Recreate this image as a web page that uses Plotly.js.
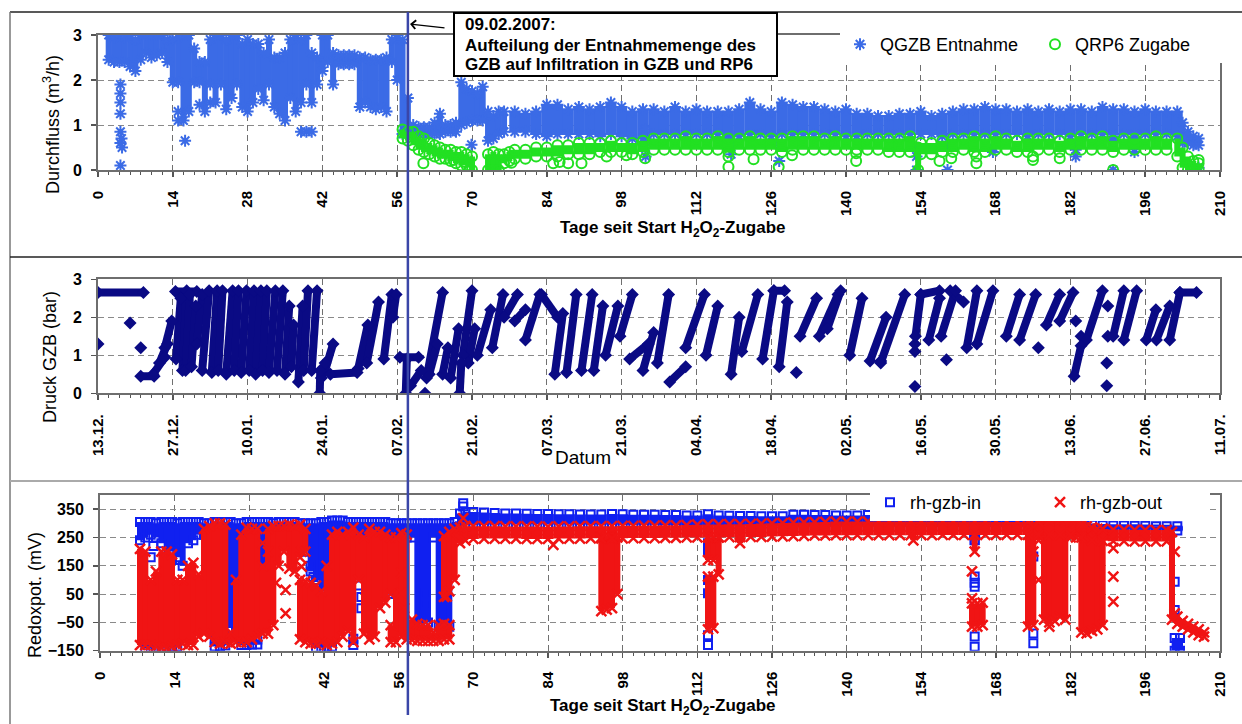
<!DOCTYPE html>
<html><head><meta charset="utf-8">
<script src="https://cdn.plot.ly/plotly-3.0.1.min.js"></script>
<style>html,body{margin:0;padding:0;background:#fff}#chart{width:1242px;height:724px}</style>
</head><body><div id="chart"></div>
<script>
// ---------- shared ----------
const dayTicks = [0,14,28,42,56,70,84,98,112,126,140,154,168,182,196,210];
const dateTickText = ["13.12.","27.12.","10.01.","24.01.","07.02.","21.02.","07.03.","21.03.","04.04.","18.04.","02.05.","16.05.","30.05.","13.06.","27.06.","11.07."];
const splitDay = 58; // 09.02.2007
const redoxTicks = [-150,-50,50,150,250,350];
const noteLines = ["09.02.2007:","Aufteilung der Entnahmemenge des","GZB auf Infiltration in GZB und RP6"];

// ---------- panel 1: Durchfluss ----------
const qgzbDayA = [2,3,4,5,6,7,8,9,10,11,12,13, 14,15,16,17,18,19,20,21,22,23, 24,25,26,27,28,29,30,31,32,33, 34,35,36,37,38,39,40,41,42,43, 44,45,46,47,48,49,50,51,52,53, 54,55,56,57,58,59,60,61,62,63, 64,65,66,67,68,69,70,71,72,73, 74,75,76, 203,204,205,206];
const qgzbLoA = [2.45,2.4,2.4,2.4,2.3,2.2,2.45,2.6,2.5,2.55,2.6,2.4, 1.95,1.95,1.1,1.3,1.95,1.95,1.3,1.9,1.5,1.9, 1.35,1.6,1.9,1.4,1.3,1.5,1.8,1.55,1.9,1.4, 1.25,1.1,1.6,1.3,1.5,1.9,1.5,1.9,2.2,2.4, 1.9,2.35,2.35,2.35,2.35,1.4,1.5,1.4,1.35,1.4, 1.3,2.4,2.0,0.8,0.8,0.8,0.8,0.8,0.8,0.8, 0.8,0.85,0.85,0.85,1.0,1.05,1.1,1.1,1.1,0.65, 0.7,0.8,0.85, 0.6,0.6,0.55,0.55];
const qgzbHiA = [3.0,2.95,3.0,2.95,3.0,2.9,3.0,3.0,3.0,3.0,3.0,2.9, 2.9,2.95,3.0,3.0,2.7,2.4,2.4,2.9,3.0,3.0, 2.9,3.0,3.0,2.8,2.9,2.8,2.8,2.6,2.9,2.5, 2.5,2.6,2.9,3.0,2.9,3.0,2.6,2.5,3.0,3.0, 2.6,2.55,2.55,2.55,2.55,2.5,2.5,2.45,2.45,2.45, 2.5,2.9,3.0,2.9,1.6,1.0,0.95,0.95,0.95,1.05, 1.25,1.0,1.0,1.05,1.95,1.8,1.75,1.7,1.85,1.3, 1.2,1.3,1.3, 1.05,0.85,0.75,0.7];
const qgzbDayB = [78,80,82,84,86,88,90,92,94,96, 98,100,102,104,106,108,110,112,114,116, 118,120,122,124,126,128,130,132,134,136, 138,140,142,144,146,148,150,152,154,156, 158,160,162,164,166,168,170,172,174,176, 178,180,182,184,186,188,190,192,194,196, 198,200,202];
const qgzbLoB = [0.85,0.85,0.8,0.75,0.8,0.8,0.8,0.8,0.75,0.8, 0.75,0.7,0.7,0.8,0.8,0.8,0.8,0.8,0.8,0.8, 0.7,0.75,0.8,0.8,0.75,0.8,0.8,0.8,0.8,0.8, 0.8,0.75,0.75,0.8,0.8,0.8,0.8,0.8,0.8,0.8, 0.75,0.8,0.8,0.8,0.8,0.8,0.8,0.8,0.75,0.8, 0.8,0.8,0.75,0.8,0.8,0.8,0.8,0.8,0.8,0.8, 0.8,0.8,0.75];
const qgzbHiB = [1.3,1.25,1.3,1.45,1.45,1.35,1.4,1.35,1.4,1.5, 1.4,1.3,1.35,1.35,1.3,1.4,1.3,1.35,1.3,1.3, 1.3,1.35,1.5,1.35,1.3,1.5,1.45,1.4,1.4,1.35, 1.3,1.35,1.25,1.25,1.2,1.2,1.25,1.25,1.3,1.2, 1.25,1.3,1.35,1.35,1.4,1.35,1.35,1.3,1.35,1.3, 1.35,1.3,1.35,1.35,1.3,1.4,1.35,1.35,1.3,1.35, 1.3,1.3,1.3];
const qgzbOutX = [4.2,4.2,4.2,4.2,4.2,4.4,4.2,4.5,4.2,15,15,16.3,19,21,38,39,40,69.9,102.5,102.5,102.5,102.5,118.5,118.5,127.5,127.5,153.2,153.2,153.2,159,159,167.5,167.5,183,183,183,190,190,190,194,194,194,205.5,206];
const qgzbOutY = [1.9,1.7,1.5,1.25,0.85,0.7,0.6,0.5,0.1,1.3,1.1,0.65,1.45,1.5,0.85,0.85,0.85,0.56,0.3,0.5,0.7,0.9,0.35,0.55,0.2,0.55,0.0,0.3,0.5,0.0,0.55,0.4,0.5,0.3,0.45,0.6,0.0,0.65,0.75,0.4,0.55,0.7,0.0,0.05];

const qrp6DayA = [57,58,59,60,61,62,63,64,65,66,67,68,69,70,73,74,75,76,77,153.5,202,203,204,205,206];
const qrp6LoA = [0.7,0.65,0.55,0.45,0.4,0.35,0.3,0.25,0.25,0.2,0.15,0.1,0.1,0.0,0.0,0.0,0.0,0.15,0.2,0.0,0.3,0.05,0.0,0.0,0.0];
const qrp6HiA = [0.9,0.85,0.85,0.75,0.7,0.6,0.55,0.5,0.45,0.45,0.4,0.4,0.35,0.3,0.35,0.4,0.35,0.35,0.4,0.5,0.7,0.5,0.3,0.2,0.15];
const qrp6DayB = [78,80,82,84,86,88,90,92,94,96, 98,100,102,104,106,108,110,112,114,116, 118,120,122,124,126,128,130,132,134,136, 138,140,142,144,146,148,150,152,154,156, 158,160,162,164,166,168,170,172,174,176, 178,180,182,184,186,188,190,192,194,196, 198,200];
const qrp6LoB = [0.25,0.25,0.3,0.3,0.3,0.35,0.35,0.35,0.4,0.4, 0.4,0.35,0.4,0.45,0.45,0.45,0.45,0.45,0.45,0.45, 0.4,0.45,0.45,0.45,0.45,0.4,0.45,0.45,0.45,0.45, 0.45,0.45,0.45,0.45,0.45,0.4,0.4,0.4,0.35,0.35, 0.4,0.4,0.45,0.4,0.4,0.45,0.45,0.4,0.4,0.45, 0.45,0.4,0.45,0.45,0.45,0.45,0.4,0.45,0.45,0.45, 0.45,0.45];
const qrp6HiB = [0.45,0.45,0.5,0.5,0.55,0.55,0.6,0.6,0.6,0.65, 0.6,0.6,0.65,0.7,0.7,0.7,0.75,0.7,0.7,0.75, 0.7,0.7,0.75,0.7,0.7,0.7,0.75,0.75,0.75,0.7, 0.75,0.7,0.7,0.7,0.7,0.7,0.7,0.75,0.6,0.6, 0.65,0.7,0.7,0.75,0.7,0.75,0.7,0.65,0.7,0.7, 0.7,0.65,0.7,0.75,0.7,0.75,0.65,0.7,0.7,0.7, 0.75,0.7];
const qrp6OutX = [60.9,66.5,68.6,69.5,77.4,85.2,86.4,88,90.5,95.2,98.9,102.4,118,118,122.7,127.4,129.9,141.9,141.9,157.5,159.7,164.4,164.4,175,175,180,190,206];
const qrp6OutY = [0.15,0.22,0.18,0.0,0.16,0.15,0.18,0.15,0.15,0.3,0.33,0.26,0.3,0.07,0.24,0.07,0.33,0.37,0.2,0.2,0.26,0.3,0.15,0.3,0.22,0.26,0.0,0.22];

// ---------- panel 2: Druck GZB (strokes: start day/value -> end day/value) ----------
const druckX0 = [0,8,10.3,11.5,12.5,14.5,14.6,15.8,16.4,17.5, 18.5,19.5,21.3,22.5,24,25.5,26.8,28.3,29.5,30.8, 32,33.5,35,36.2,37.5,38.5,40,41.5,41.8,42.5, 43.5,48.7,50.3,53.5,55.2,56.5,57.6,58.5,61.5,62, 64.5,66,67.7,68.3,69.3,71,73.8,76,78,80, 83,85.5,87.7,90.5,92.8,95,97.7,99.5,102,104.7, 107,110,113.8,118.5,120.5,124.4,126.5,127.5,131.4,135, 136.5,140.7,144.5,146.5,153,154,155.5,157.8,159.5,162.6, 164.5,170,172.5,177.5,180,182.7,185,190,192,196.2, 198.1,200.6,202.5];
const druckY0 = [2.65,0.45,0.5,0.8,1.2,2.68,0.9,0.6,0.6,0.7, 1.3,0.6,0.55,0.6,0.5,0.6,0.55,0.6,0.5,0.6, 0.55,0.6,0.5,0.7,0.3,0.6,0.6,0.0,0.4,0.6, 0.5,0.65,0.8,0.9,2.0,0.95,0.0,0.2,0.4,0.5, 0.5,0.4,0.0,1.0,0.8,1.0,1.2,2.0,1.9,1.4, 2.6,0.5,0.55,0.6,0.6,1.0,1.5,0.9,0.6,0.8, 0.3,1.2,1.0,0.5,1.1,0.9,2.7,0.7,1.5,1.5, 1.7,1.0,0.85,0.8,1.5,2.6,1.4,1.5,2.7,1.2, 1.3,1.5,1.4,1.8,1.9,0.45,1.4,1.5,1.4,1.4, 1.4,1.4,2.65];
const druckX1 = [8.5,10.5,12.5,13,13.8,18.5,15.5,16.6,17.2,18.3, 19.5,20.8,22.3,23.3,25.2,26.3,27.8,29.2,30.5,31.6, 33.2,34.6,35.8,36.6,38.3,39.3,41,41.6,42.5,44, 48.5,50.5,52.5,55,55.8,60,57.8,60.5,64.5,63.5, 65.5,67.5,68,70,70.5,73.5,75.8,78.5,80,82.7, 86,87,89.5,92.5,94.5,97.3,100,103,104,106.8, 110,113.5,116,120,123.5,126.5,128.5,129,134.5,138.5, 139,143,147.5,151,154,157.5,157.5,160.5,162,164.5, 167.5,172.5,175.5,180,182.5,184,188,192,194.4,198, 200.6,202.5,205.6];
const druckY1 = [2.65,0.45,0.95,1.3,1.9,2.68,2.5,2.7,2.6,2.3, 2.6,2.7,2.7,2.7,2.7,2.7,2.7,2.7,2.7,2.7, 2.7,2.7,2.3,1.8,2.3,2.7,2.7,0.6,0.8,1.3, 0.55,1.8,2.4,2.6,2.6,0.95,0.9,0.6,2.65,1.3, 1.2,1.7,0.8,2.7,1.7,2.2,2.6,2.6,2.2,2.6, 2.0,2.1,2.6,2.6,2.3,2.3,2.6,1.3,1.6,2.6, 0.7,2.6,2.3,2.0,2.6,2.7,2.7,2.4,2.5,2.6, 2.7,2.5,2.0,2.6,2.6,2.7,2.5,2.7,2.4,2.7, 2.7,2.6,2.6,2.6,2.65,1.25,2.7,2.7,2.7,2.2, 2.3,2.65,2.65];
const druckPtX = [0,6,8,61.2,130.7,146.5,152.9,152.9,152.9,158.8,176,183,184,188.8,188.8,189,189];
const druckPtY = [1.3,1.85,1.2,0.0,0.55,0.85,0.18,1.1,1.3,0.88,1.2,1.9,1.5,0.2,0.8,1.5,2.3];

// ---------- panel 3: Redoxpotential ----------
const rhInDayA = [7.5,8.5,9.5,10.5,11.5,12.5,13.5,14.5,15.5,16.5, 17.5,18.5,19.5,20.5,21.5,22.5,23.5,24.5,25.5,26.5, 27.5,28.5,29.5,30.5,31.5,32.5,33.5,34.5,35.5,36.5, 37.5,38.5,39.5,40.5,41.5,42.5,43.5,44.5,45.5,46.5, 47.5,48.5,49.5,50.5,51.5,52.5,53.5,54.5,55.5,56.5, 57.5,58.5,59.5,60.5,61.5,62.5,63.5,64.5,65.5,66.5, 67.5,68.5,201.5,202.5, 8.5,9.5,10.5,11.5,12.5,13.5,14.5,21.5,22.5,23.5, 26.5,27.5,28.5,29.5,40.5,41.5,42.5,43.5,47.5];
const rhInLoA = [240,250,260,250,230,160,200,180,150,230, 240,260,260,270,270,270,250,-70,-60,250, 260,240,200,150,180,260,270,270,270,260, 240,200,130,100,60,-80,200,230,250,250, 200,150,250,250,250,150,80,50,60,240, 250,250,-55,-55,-50,250,-65,-65,-65,280, 290,295,-150,-150, -142,-142,-140,-140,-138,-138,-135,-135,-135,-132, -130,-130,-128,-128,-140,-140,-138,-136,-130];
const rhInHiA = [305,305,305,300,305,305,305,300,305,305, 305,305,300,300,305,305,305,305,300,300, 305,305,305,305,305,300,305,305,305,305, 300,300,300,300,305,305,310,310,310,305, 305,305,305,305,305,305,305,300,300,300, 300,300,300,300,300,300,300,300,300,305, 335,340,-105,-105, -118,-118,-116,-116,-115,-115,-112,-112,-112,-110, -110,-110,-110,-110,-118,-118,-116,-115,-108];
const rhInDayB = [70,72,74,76,78,80,82,84,86,88, 90,92,94,96,98,100,102,104,106,108, 110,112,114,116,118,120,122,124,126,128, 130,132,134,136,138,140,142,144,146,148, 150,152,154,156,158,160,162,164,166,168, 170,172,174,176,178,180,182,184,186,188, 190,192,194,196,198,200,202];
const rhInLoB = [295,296,296,297,297,297,297,296,296,296, 296,296,296,295,295,295,295,295,294,294, 294,293,290,292,292,292,292,292,292,291, 291,291,290,290,290,290,290,290,290,290, 289,289,288,288,288,288,287,240,287,287, 287,287,300,290,290,289,289,288,282,280, 279,279,279,278,278,277,275];
const rhInHiB = [340,338,336,335,335,334,333,333,332,332, 331,331,331,333,332,330,330,330,329,329, 328,328,332,328,327,326,326,325,325,325, 330,330,329,329,328,328,328,329,328,328, 328,327,327,326,327,327,326,325,326,325, 324,324,340,335,322,321,321,318,295,293, 292,292,291,291,290,290,290];
const rhInOutX = [9.5,10,12,13,14.5,15,16,22,30.5,31, 39,39.5,40,40.5,41,41.5,42,44,48.5,49, 49,53,54.5,55,55.5,56,60,60,61,61, 68.1,68.1,95,95,114,114,114,114,114,114, 164,164,164,164,164,164,175,175,175,201.5,201.5];
const rhInOutY = [180,220,120,60,200,170,30,230,200,120, 200,150,110,60,20,-10,230,180,80,40, 0,150,60,100,200,250,112,76,53,12, 371,359,106,53,230,200,100,53,-95,-130, 241,112,90,76,-100,-136,183,-89,-124,94,-6];

const rhOutDayA = [7.5,8.5,9.5,10.5,11.5,12.5,13.5,14.5,15.5,16.5, 17.5,18.5,19.5,20.5,21.5,22.5,23.5,24.5,25.5,26.5, 27.5,28.5,29.5,30.5,31.5,32.5,33.5,34.5,35.5,36.5, 37.5,37.5,38.5,38.5,39.5,40.5,41.5,42.5,43.5,44.5, 45.5,46.5,47.5,48.5,49.5,50.5,51.5,52.5,53.5,54.5, 54.5,55.5,56.5,57.5,58.5,59.5,60.5,61.5,62.5,63.5, 64.5,64.5,65.5,65.5,66.5,67.5,68.5,94,95,96, 97,114,114,115,115,116,120,152.5,164,163.5, 164.5,165.5,174,175,176,177,178,179,180,181, 182,183,184,185,186,187,188,201,202,203, 204,205,206,207];
const rhOutLoA = [-130,-130,-130,-135,-140,-140,-135,-130,-125,-130, -130,-100,-90,-100,-120,-125,-120,-125,-120,-120, -120,-110,-100,-90,-90,-60,150,200,140,130, -110,180,-120,200,-125,-125,-120,-130,-125,-120, -100,-80,-120,100,-90,-110,-100,0,20,-120, 50,-120,-100,-110,-112,-115,-115,-115,-115,-115, -110,40,-110,60,100,230,240,-10,-5,0, 50,170,-75,170,-70,120,230,240,200,-65, -65,-60,-65,-60,240,-40,-50,-45,-30,-40, 250,250,-85,-89,-80,-75,-60,-40,-55,-65, -75,-85,-95,-100];
const rhOutHiA = [210,200,100,130,200,200,190,100,100,150, 160,120,280,290,300,300,295,-85,100,260, 285,280,280,150,280,290,290,290,295,290, 100,295,95,280,90,80,60,150,260,270, 260,270,285,260,250,280,270,270,260,-60, 250,250,265,260,-40,-55,-60,-60,-85,-60, -55,255,-60,270,280,285,290,250,250,250, 250,250,112,250,112,250,260,280,260,17, 17,20,290,290,300,312,312,312,312,305, 305,300,290,289,285,280,280,270,-30,-45, -55,-65,-75,-85];
const rhOutDayB = [70,72,74,76,78,80,82,84,86,88, 90,92,94,96,98,100,102,104,106,108, 110,112,114,116,118,120,122,124,126,128, 130,132,134,136,138,140,142,144,146,148, 150,152,154,156,158,160,162,164,166,168, 170,172,174,176,178,180,182,184,186,188, 190,192,194,196,198,200];
const rhOutLoB = [245,246,246,246,246,245,245,245,246,246, 246,247,247,247,247,248,248,248,249,249, 250,250,250,250,251,251,252,252,253,254, 255,256,257,257,258,258,258,258,258,258, 258,258,258,258,259,259,259,259,259,259, 259,259,259,259,259,259,258,250,240,238, 237,237,236,236,236,236];
const rhOutHiB = [290,290,290,289,289,289,289,288,289,289, 290,290,290,290,291,291,292,292,293,293, 294,295,296,296,297,297,298,299,300,301, 302,303,304,305,306,306,306,306,306,306, 306,306,306,306,306,306,306,306,306,305, 305,305,305,305,308,310,312,300,285,280, 278,278,277,277,276,276];
const rhOutOutX = [34.8,34.8,37.8,37.8,33,56.5,56.5,57,65,68.1,85,163.5,163.5,175,176,178,190,190,190,201.5,201.5,30.5,31.5];
const rhOutOutY = [65,-18,200,147,90,124,53,0,41,318,224,130,35,200,100,-65,212,112,23,200,-18,230,200];

// ---------- colours ----------
const cQGZB = '#3b6be6', cQRP6 = '#22e022', cDruck = '#0a0a84', cIn = '#1020f0', cOut = '#f01414';

// ---------- builders ----------
function bandXY(xs, lo, hi){ const x=[],y=[]; for(let i=0;i<xs.length;i++){x.push(xs[i],xs[i],null);y.push(lo[i],hi[i],null);} return {x,y}; }
function strokeXY(x0,y0,x1,y1){ const x=[],y=[]; for(let i=0;i<x0.length;i++){x.push(x0[i],x1[i],null);y.push(y0[i],y1[i],null);} return {x,y}; }
function lineTrace(xy,color,width,xa,ya){ return {type:'scatter',mode:'lines',x:xy.x,y:xy.y,xaxis:xa,yaxis:ya,line:{color:color,width:width},hoverinfo:'skip',showlegend:false}; }
function markTrace(x,y,marker,xa,ya,name,legend){ const t={type:'scatter',mode:'markers',x:x,y:y,xaxis:xa,yaxis:ya,marker:marker,name:name,hoverinfo:'skip'}; if(legend){t.legend=legend;t.showlegend=true;} else t.showlegend=false; return t; }

const traces = [
  lineTrace(bandXY(qgzbDayA,qgzbLoA,qgzbHiA),cQGZB,6,'x','y'),
  lineTrace(bandXY(qgzbDayB,qgzbLoB,qgzbHiB),cQGZB,11,'x','y'),
  markTrace(qgzbOutX.concat(qgzbDayA,qgzbDayA,qgzbDayB,qgzbDayB), qgzbOutY.concat(qgzbLoA,qgzbHiA,qgzbLoB,qgzbHiB),
    {symbol:'asterisk-open',size:10,color:cQGZB,line:{color:cQGZB,width:2}},'x','y','QGZB Entnahme','legend'),
  lineTrace(bandXY(qrp6DayA,qrp6LoA,qrp6HiA),cQRP6,6,'x','y'),
  lineTrace(bandXY(qrp6DayB,qrp6LoB,qrp6HiB),cQRP6,11,'x','y'),
  markTrace(qrp6OutX.concat(qrp6DayA,qrp6DayA,qrp6DayB,qrp6DayB), qrp6OutY.concat(qrp6LoA,qrp6HiA,qrp6LoB,qrp6HiB),
    {symbol:'circle-open',size:10,color:cQRP6,line:{color:cQRP6,width:2}},'x','y','QRP6 Zugabe','legend'),

  lineTrace(strokeXY(druckX0,druckY0,druckX1,druckY1),cDruck,8,'x2','y2'),
  markTrace(druckPtX.concat(druckX0,druckX1), druckPtY.concat(druckY0,druckY1),
    {symbol:'diamond',size:10,color:cDruck},'x2','y2','Druck GZB',null),

  lineTrace(bandXY(rhInDayA,rhInLoA,rhInHiA),cIn,6,'x3','y3'),
  lineTrace(bandXY(rhInDayB,rhInLoB,rhInHiB),cIn,11,'x3','y3'),
  markTrace(rhInOutX.concat(rhInDayA,rhInDayA,rhInDayB,rhInDayB), rhInOutY.concat(rhInLoA,rhInHiA,rhInLoB,rhInHiB),
    {symbol:'square-open',size:8,color:cIn,line:{color:cIn,width:2}},'x3','y3','rh-gzb-in','legend2'),
  lineTrace(bandXY(rhOutDayA,rhOutLoA,rhOutHiA),cOut,6,'x3','y3'),
  lineTrace(bandXY(rhOutDayB,rhOutLoB,rhOutHiB),cOut,11,'x3','y3'),
  markTrace(rhOutOutX.concat(rhOutDayA,rhOutDayA,rhOutDayB,rhOutDayB), rhOutOutY.concat(rhOutLoA,rhOutHiA,rhOutLoB,rhOutHiB),
    {symbol:'x-thin-open',size:10,color:cOut,line:{color:cOut,width:2.5}},'x3','y3','rh-gzb-out','legend2')
];

// ---------- layout ----------
const W=1242, H=724;
const px = v => v/W, py = v => 1 - v/H;
const FONT = 'Liberation Sans, Arial, sans-serif';
const tickFontX = {family:FONT,size:15,color:'#000',weight:'bold'};
const tickFontY = {family:FONT,size:16,color:'#000',weight:'bold'};
function xAxis(domain, anchor, extra){
  return Object.assign({domain:domain, anchor:anchor, range:[0,210], tickmode:'array', tickvals:dayTicks, tickangle:-90,
    showline:true, linecolor:'#6e6e6e', linewidth:2, mirror:true, zeroline:false,
    showgrid:true, gridcolor:'#707070', griddash:'6px,4px', gridwidth:1,
    ticks:'outside', ticklen:5, tickwidth:1.5, tickcolor:'#555', ticklabelstandoff:8, tickfont:tickFontX,
    minor:{tickmode:'linear', tick0:0, dtick:2, ticks:'outside', ticklen:3, tickwidth:1, tickcolor:'#555', showgrid:false},
    fixedrange:true}, extra||{});
}
function yAxis(domain, anchor, range, tickvals){
  return {domain:domain, anchor:anchor, range:range, tickmode:'array', tickvals:tickvals,
    showline:true, linecolor:'#6e6e6e', linewidth:2, mirror:true, zeroline:false,
    showgrid:true, gridcolor:'#8a8a8a', griddash:'6px,4px', gridwidth:1,
    ticks:'outside', ticklen:5, tickwidth:1.5, tickcolor:'#555', ticklabelstandoff:6, tickfont:tickFontY, fixedrange:true};
}
function txt(x, y, text, font, extra){
  return Object.assign({xref:'paper', yref:'paper', x:px(x), y:py(y), xanchor:'center', yanchor:'middle', showarrow:false, text:text, font:font}, extra||{});
}
const noteFont = {family:FONT,size:17,color:'#000',weight:'bold'};
const titleFont = {family:FONT,size:18,color:'#000'};

const layout = {
  width:W, height:H, autosize:false,
  margin:{l:0,r:0,t:0,b:0,pad:0},
  paper_bgcolor:'#fff', plot_bgcolor:'#fff',
  font:{family:FONT, color:'#000'},
  xaxis: xAxis([px(98),px(1220)],'y'),
  yaxis: yAxis([py(170),py(35)],'x',[0,3],[0,1,2,3]),
  xaxis2: xAxis([px(98),px(1220)],'y2',{ticktext:dateTickText}),
  yaxis2: yAxis([py(393.3),py(279.3)],'x2',[0,3],[0,1,2,3]),
  xaxis3: xAxis([px(100),px(1220)],'y3'),
  yaxis3: yAxis([py(650.7),py(495)],'x3',[-150,400],redoxTicks),
  legend: {x:px(840), y:py(26), xanchor:'left', yanchor:'top', orientation:'h', bgcolor:'#fff', borderwidth:0,
    font:{family:FONT,size:18,color:'#000'}, entrywidth:150, entrywidthmode:'pixels', tracegroupgap:0},
  legend2: {x:px(870), y:py(484), xanchor:'left', yanchor:'top', orientation:'h', bgcolor:'#fff', borderwidth:0,
    font:{family:FONT,size:18,color:'#000'}, entrywidth:125, entrywidthmode:'pixels', tracegroupgap:0},
  shapes: [
    {type:'line', xref:'paper', yref:'paper', x0:px(10), x1:1, y0:py(12), y1:py(12), line:{color:'#222',width:1.5}},
    {type:'line', xref:'paper', yref:'paper', x0:px(10), x1:px(10), y0:py(12), y1:0, line:{color:'#777',width:1.5}},
    {type:'line', xref:'paper', yref:'paper', x0:px(10), x1:1, y0:py(257), y1:py(257), line:{color:'#222',width:1.5}},
    {type:'line', xref:'paper', yref:'paper', x0:px(10), x1:1, y0:py(481), y1:py(481), line:{color:'#aaa',width:2}},
    {type:'line', xref:'x', yref:'paper', x0:splitDay, x1:splitDay, y0:py(715), y1:py(12), line:{color:'#3a46a8',width:2.5}, layer:'above'},
    {type:'rect', xref:'paper', yref:'paper', x0:px(454), x1:px(777), y0:py(76), y1:py(13), line:{color:'#000',width:2}, fillcolor:'#fff', layer:'above'}
  ],
  annotations: [
    txt(463, 25, noteLines[0], noteFont, {xanchor:'left'}),
    txt(463, 45, noteLines[1], noteFont, {xanchor:'left'}),
    txt(463, 65, noteLines[2], noteFont, {xanchor:'left'}),
    {xref:'x', yref:'paper', x:splitDay+0.4, y:py(24), ax:36, ay:4, text:'', showarrow:true, arrowhead:4, arrowsize:1.3, arrowwidth:1.3, arrowcolor:'#000'},
    txt(672, 229, 'Tage seit Start H<sub>2</sub>O<sub>2</sub>-Zugabe', {family:FONT,size:17,color:'#000',weight:'bold'}),
    txt(583, 457, 'Datum', {family:FONT,size:19,color:'#000'}),
    txt(662, 707, 'Tage seit Start H<sub>2</sub>O<sub>2</sub>-Zugabe', {family:FONT,size:17,color:'#000',weight:'bold'}),
    txt(52, 125, 'Durchfluss (m<sup>3</sup>/h)', titleFont, {textangle:-90}),
    txt(50, 357, 'Druck GZB (bar)', titleFont, {textangle:-90}),
    txt(35, 595, 'Redoxpot. (mV)', titleFont, {textangle:-90})
  ]
};

Plotly.newPlot('chart', traces, layout, {displayModeBar:false, staticPlot:true});
</script></body></html>
